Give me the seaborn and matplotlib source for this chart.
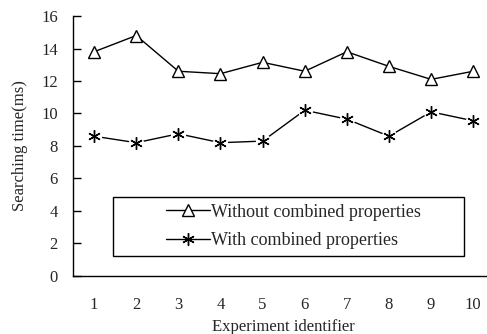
import pandas as pd
import matplotlib.pyplot as plt
import seaborn as sns
from matplotlib.patches import Rectangle
from matplotlib.ticker import FixedLocator

# data
experiments = [1, 2, 3, 4, 5, 6, 7, 8, 9, 10]
without_combined = [13.8, 14.8, 12.6, 12.45, 13.15, 12.6, 13.8, 12.9, 12.1, 12.6]
with_combined = [8.6, 8.2, 8.75, 8.2, 8.3, 10.2, 9.65, 8.6, 10.1, 9.55]
y_ticks = [0, 2, 4, 6, 8, 10, 12, 14, 16]

df = pd.DataFrame({
    'Experiment': experiments,
    'Without combined properties': without_combined,
    'With combined properties': with_combined,
})

sns.set_style('white')
plt.rcParams['font.family'] = ['Liberation Serif', 'DejaVu Serif']
plt.rcParams['font.size'] = 12

fig = plt.figure(figsize=(4.87, 3.34), dpi=100)
ax = fig.add_axes([0.15, 0.174, 0.865, 0.778])

star = (6, 2, 0)

# line + star for the legend, lowest layer
sns.lineplot(data=df, x='Experiment', y='With combined properties', ax=ax,
             color='black', linewidth=1.0, marker=star, markersize=9,
             markeredgecolor='black', markeredgewidth=1.0,
             label='With combined properties', zorder=2)
# white underlay so the line stops short of the star markers
ax.plot(df['Experiment'], df['With combined properties'], linestyle='none',
        marker='o', markersize=10, color='white', zorder=3)
ax.plot(df['Experiment'], df['With combined properties'], linestyle='none',
        marker=star, markersize=9, markeredgecolor='black', markeredgewidth=1.0,
        color='black', zorder=4)

sns.lineplot(data=df, x='Experiment', y='Without combined properties', ax=ax,
             color='black', linewidth=1.0, marker='^', markersize=8,
             markerfacecolor='white', markeredgecolor='black', markeredgewidth=1.0,
             label='Without combined properties', zorder=4)

ax.set_xlim(0.5, 10.5)
ax.set_ylim(0, 16)
ax.set_yticks(y_ticks)
ax.set_xticks(experiments)
ax.xaxis.set_minor_locator(FixedLocator([x + 0.5 for x in experiments[:-1]]))
ax.tick_params(axis='x', which='major', length=0, pad=15, labelsize=12)
ax.tick_params(axis='x', which='minor', length=6, width=1, direction='in', color='black')
ax.tick_params(axis='y', which='major', length=6, width=1, direction='in', pad=11,
               color='black', left=True, labelsize=12)

for side in ['top', 'right']:
    ax.spines[side].set_visible(False)
for side in ['left', 'bottom']:
    ax.spines[side].set_color('black')
    ax.spines[side].set_linewidth(1.0)

ax.set_xlabel('Experiment identifier', fontsize=12)
ax.set_ylabel('Searching time(ms)', fontsize=12)
ax.xaxis.set_label_coords(0.499, -0.165)
ax.yaxis.set_label_coords(-0.107, 0.502)

# legend box drawn separately, Excel-style wide frame
ax.add_patch(Rectangle((0.095, 0.077), 0.834, 0.227, transform=ax.transAxes,
                       fill=False, edgecolor='black', linewidth=1.0, zorder=5))
handles, labels = ax.get_legend_handles_labels()
ax.legend(handles[::-1], labels[::-1], loc='center left', bbox_to_anchor=(0.2, 0.19),
          frameon=False, borderpad=0, handlelength=2.4, handletextpad=0.1,
          labelspacing=0.65, fontsize=13)

fig.savefig('out.png', dpi=100)
